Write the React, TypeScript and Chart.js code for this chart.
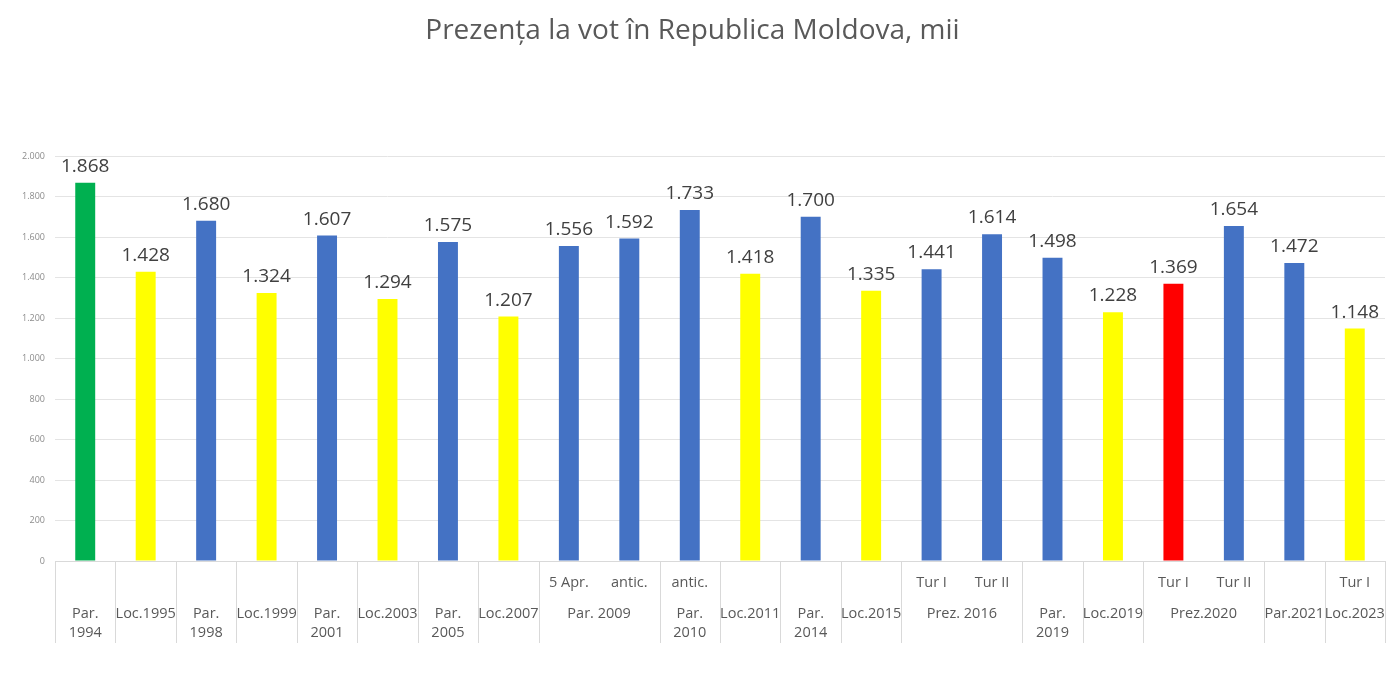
import React, { useEffect, useRef } from 'react';
import { Chart, registerables } from 'chart.js';

Chart.register(...registerables);

// ---- data ----
const chartTitle = 'Prezența la vot în Republica Moldova, mii';
const subLabels = ['', '', '', '', '', '', '', '', '5 Apr.', 'antic.', 'antic.', '', '', '', 'Tur I', 'Tur II', '', '', 'Tur I', 'Tur II', '', 'Tur I'];
const groupLabels = [
  ['Par.', '1994'], ['Loc.1995'], ['Par.', '1998'], ['Loc.1999'], ['Par.', '2001'], ['Loc.2003'],
  ['Par.', '2005'], ['Loc.2007'], ['Par. 2009'], ['Par.', '2010'], ['Loc.2011'], ['Par.', '2014'],
  ['Loc.2015'], ['Prez. 2016'], ['Par.', '2019'], ['Loc.2019'], ['Prez.2020'], ['Par.2021'], ['Loc.2023'],
];
const groupSpans = [1, 1, 1, 1, 1, 1, 1, 1, 2, 1, 1, 1, 1, 2, 1, 1, 2, 1, 1];
const turnout = [1868, 1428, 1680, 1324, 1607, 1294, 1575, 1207, 1556, 1592, 1733, 1418, 1700, 1335, 1441, 1614, 1498, 1228, 1369, 1654, 1472, 1148];
const electionKinds = ['first', 'local', 'parl', 'local', 'parl', 'local', 'parl', 'local', 'parl', 'parl', 'parl', 'local', 'parl', 'local', 'pres', 'pres', 'parl', 'local', 'pres2020I', 'pres', 'parl', 'local'];
const yTicks = [0, 200, 400, 600, 800, 1000, 1200, 1400, 1600, 1800, 2000];

const kindColors: Record<string, string> = {
  first: '#00B050',
  local: '#FFFF00',
  parl: '#4472C4',
  pres: '#4472C4',
  pres2020I: '#FF0000',
};

const fmt = (v: number) => {
  const s = String(Math.round(v));
  return s.replace(/\B(?=(\d{3})+(?!\d))/g, '.');
};

const FONT = "'Open Sans', 'Noto Sans', sans-serif";

const valueLabels = {
  id: 'valueLabels',
  afterDatasetsDraw(chart: any) {
    const ctx = chart.ctx;
    const meta = chart.getDatasetMeta(0);
    ctx.save();
    ctx.font = `19px ${FONT}`;
    ctx.fillStyle = '#404040';
    ctx.textAlign = 'center';
    ctx.textBaseline = 'alphabetic';
    meta.data.forEach((bar: any, i: number) => {
      ctx.fillText(fmt(turnout[i]), bar.x, bar.y - 11);
    });
    ctx.restore();
  },
};

const multiLevelAxis = {
  id: 'multiLevelAxis',
  afterDraw(chart: any) {
    const ctx = chart.ctx;
    const xs = chart.scales.x;
    const n = turnout.length;
    const w = (xs.right - xs.left) / n;
    const top = chart.chartArea.bottom;
    const bottom = top + 82;
    ctx.save();
    // separators
    ctx.strokeStyle = '#d9d9d9';
    ctx.lineWidth = 1;
    const boundaries: number[] = [0];
    let acc = 0;
    groupSpans.forEach((s) => { acc += s; boundaries.push(acc); });
    boundaries.forEach((b) => {
      const x = Math.round(xs.left + b * w) + 0.5;
      ctx.beginPath();
      ctx.moveTo(x, top);
      ctx.lineTo(x, bottom);
      ctx.stroke();
    });
    ctx.fillStyle = '#595959';
    ctx.font = `14.5px ${FONT}`;
    ctx.textAlign = 'center';
    ctx.textBaseline = 'middle';
    subLabels.forEach((lab, i) => {
      if (!lab) return;
      ctx.fillText(lab, xs.getPixelForValue(i), top + 22);
    });
    let start = 0;
    groupSpans.forEach((s, g) => {
      const c = (xs.getPixelForValue(start) + xs.getPixelForValue(start + s - 1)) / 2;
      groupLabels[g].forEach((line, li) => {
        ctx.fillText(line, c, top + 53 + li * 19);
      });
      start += s;
    });
    ctx.restore();
  },
};

export default function App() {
  const ref = useRef<HTMLCanvasElement | null>(null);
  useEffect(() => {
    document.body.style.margin = '0';
    Chart.defaults.font.family = FONT;
    const chart = new Chart(ref.current as HTMLCanvasElement, {
      type: 'bar',
      data: {
        labels: subLabels.map((s, i) => s || String(i)),
        datasets: [
          {
            data: turnout,
            backgroundColor: electionKinds.map((k) => kindColors[k]),
            barPercentage: 0.33,
            categoryPercentage: 1,
          },
        ],
      },
      options: {
        animation: false,
        responsive: false,
        maintainAspectRatio: false,
        layout: { padding: { left: 0, right: 15, top: 0, bottom: 0 } },
        plugins: {
          legend: { display: false },
          tooltip: { enabled: false },
          title: {
            display: true,
            text: chartTitle,
            color: '#595959',
            font: { size: 28, weight: 'normal', family: FONT },
            padding: { top: 14, bottom: 108.4 },
          },
        },
        scales: {
          x: {
            ticks: { display: false },
            grid: { display: false },
            border: { display: true, color: '#d9d9d9' },
            afterFit: (s: any) => { s.height = 126; },
          },
          y: {
            min: 0,
            max: 2000,
            afterBuildTicks: (s: any) => { s.ticks = yTicks.map((v) => ({ value: v })); },
            ticks: {
              callback: (v: any) => fmt(Number(v)),
              color: '#8c8c8c',
              font: { size: 9, family: FONT },
              padding: 10,
            },
            grid: { color: '#e4e4e4', drawTicks: false },
            border: { display: false },
            afterFit: (s: any) => { s.width = 55; },
          },
        },
      },
      plugins: [valueLabels, multiLevelAxis],
    });
    return () => chart.destroy();
  }, []);
  return (
    <div style={{ width: 1400, height: 687, background: '#fff' }}>
      <canvas ref={ref} width={1400} height={687} style={{ width: 1400, height: 687, display: 'block' }} />
    </div>
  );
}
